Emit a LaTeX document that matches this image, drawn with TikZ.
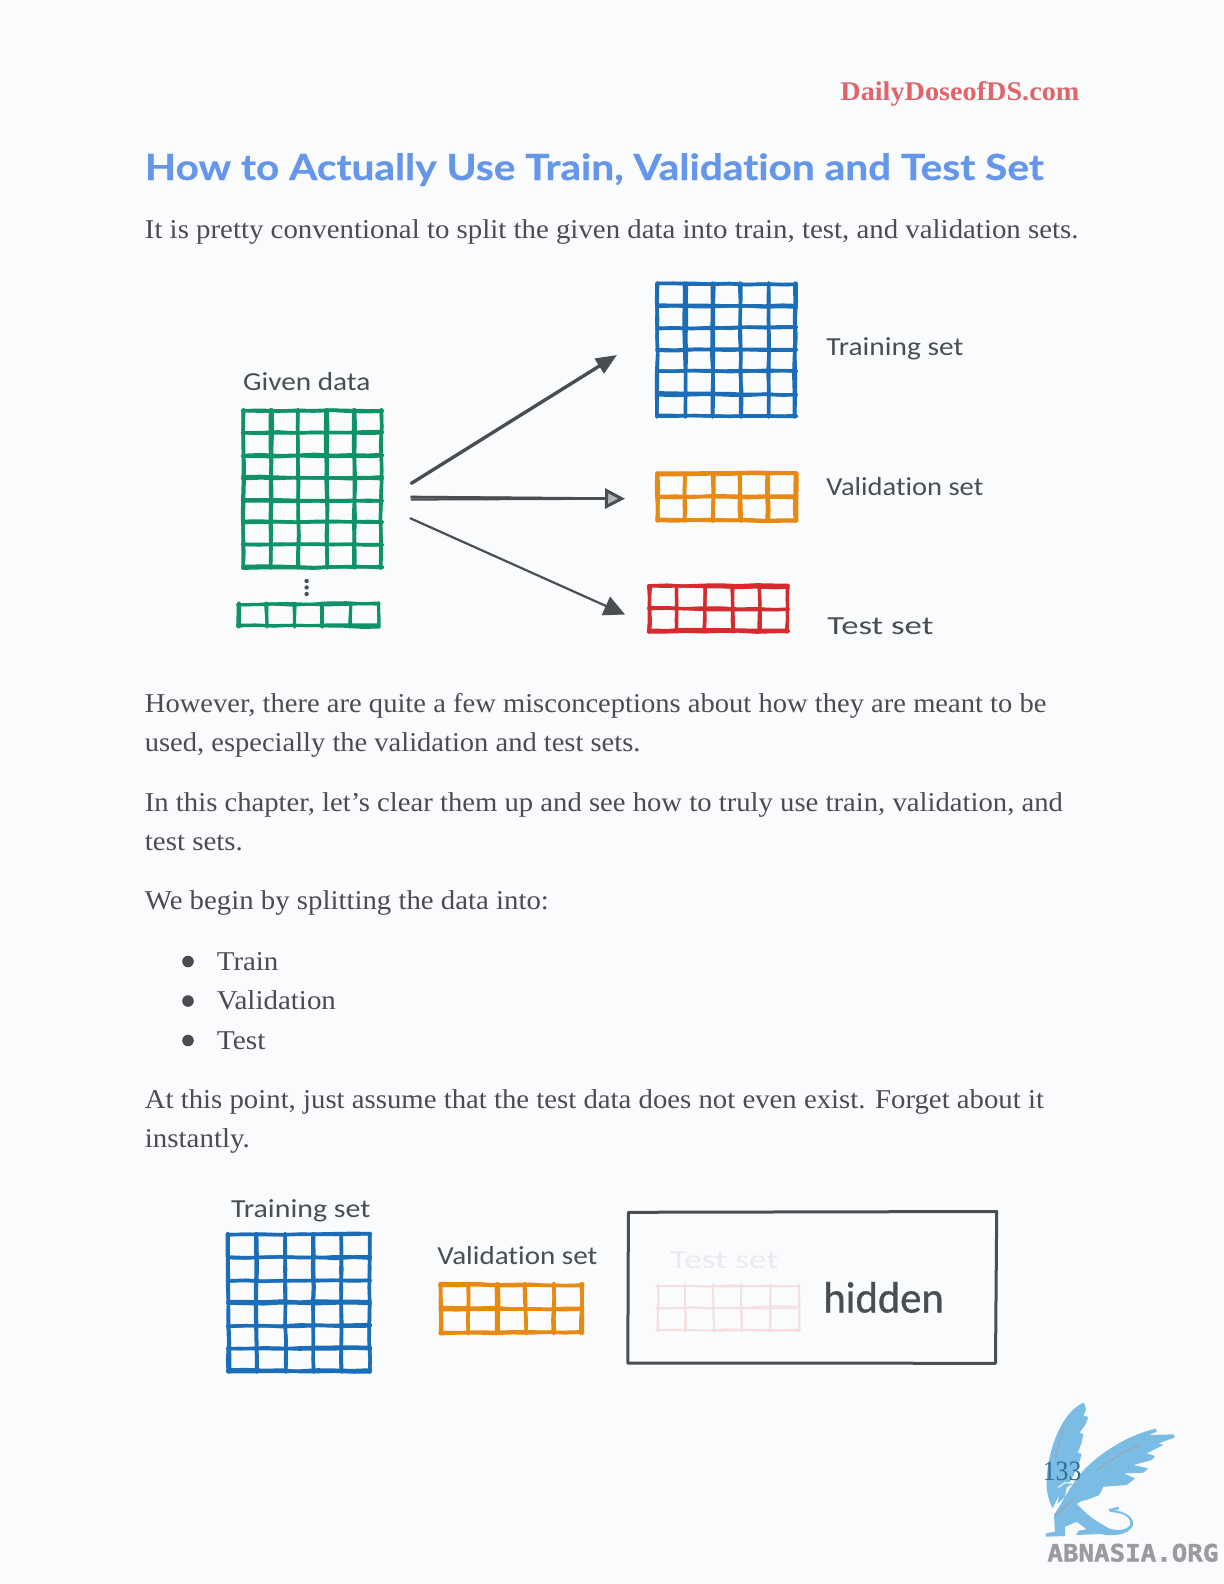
\documentclass[tikz,border=0pt]{standalone}
\usepackage{fontspec}
\usepackage{graphicx}
\setmainfont{Liberation Serif}
\newfontfamily\headfont[Ligatures=CommonOff,FakeBold=0.5]{Lato}
\newfontfamily\sketchfont[Ligatures=CommonOff]{Carlito}
\newfontfamily\hiddenfont[Ligatures=CommonOff,FakeBold=0.8]{Carlito}
\newfontfamily\logofont[FakeBold=1.6]{DejaVu Sans Mono}
\usetikzlibrary{arrows.meta,decorations.pathmorphing}
\definecolor{pagebg}{HTML}{F9FBFD}
\definecolor{imgbg}{HTML}{FAFBFD}
\definecolor{inkc}{HTML}{4A4D52}
\definecolor{bodyc}{HTML}{4B4C52}
\definecolor{titlec}{HTML}{6596EA}
\definecolor{brandc}{HTML}{E0656A}
\definecolor{gridgreen}{HTML}{0E9268}
\definecolor{gridblue}{HTML}{1C6DB8}
\definecolor{gridorange}{HTML}{E88A12}
\definecolor{gridred}{HTML}{D42B2F}
\definecolor{gridpink}{HTML}{F6DDE0}
\definecolor{fadedtext}{HTML}{E9EBEF}
\definecolor{logoblue}{HTML}{7BBCE5}
\definecolor{logogray}{HTML}{9A9B9E}
\definecolor{logostreak}{HTML}{9AA6AE}
\definecolor{pagenum}{HTML}{2F6F96}
\newcommand\tline[6]{%
  \pgfmathsetmacro\tlw{(#4-#3)/2}%
  \node[#1,anchor=base west] (#2) at (#3,#5) {\resizebox{\tlw pt}{\height}{#6}};}
\newcommand\sketchgrid[8]{% x0 y0 x1 y1 cols rows colour width
  \pgfmathsetseed{#1}%
  \pgfmathsetmacro\gdx{(#3-#1)/#5}%
  \pgfmathsetmacro\gdy{(#4-#2)/#6}%
  \foreach \gi in {0,...,#5}{%
    \foreach \gp in {1,2}{%
      \pgfmathsetmacro\gxa{#1+\gi*\gdx+1.2*rand}%
      \pgfmathsetmacro\gxb{#1+\gi*\gdx+1.2*rand}%
      \draw[sketchline,draw=#7,line width=#8] (\gxa,#2-1) -- (\gxb,#4+1);}}
  \foreach \gj in {0,...,#6}{%
    \foreach \gp in {1,2}{%
      \pgfmathsetmacro\gya{#2+\gj*\gdy+1.2*rand}%
      \pgfmathsetmacro\gyb{#2+\gj*\gdy+1.2*rand}%
      \draw[sketchline,draw=#7,line width=#8] (#1-1,\gya) -- (#3+1,\gyb);}}
}
\tikzset{
  x=0.5pt,y=-0.5pt,
  sketchline/.style={line cap=round,line join=round,decorate,
    decoration={random steps,segment length=9pt,amplitude=0.35pt}},
  bodytext/.style={inner sep=0,text=bodyc,font=\fontsize{13.6}{16}\selectfont},
  titletext/.style={inner sep=0,text=titlec,font=\headfont\bfseries\fontsize{18}{22}\selectfont},
  brandtext/.style={inner sep=0,text=brandc,font=\bfseries\fontsize{13.5}{16}\selectfont},
  handtext/.style={inner sep=0,text=inkc,font=\sketchfont\fontsize{13}{16}\selectfont},
  arrowline/.style={draw=inkc,line cap=round},
  logoshape/.style={fill=logoblue,draw=none},
}
\begin{document}
\begin{tikzpicture}
\useasboundingbox (0,0) rectangle (1224,1584);
\fill[pagebg] (0,0) rectangle (1224,1584);
\fill[imgbg] (229,271) rectangle (1000,648);
\fill[imgbg] (215,1187) rectangle (1007,1384);

% header and title
\tline{brandtext}{brand}{840}{1079}{100.5}{DailyDoseofDS.com}
\tline{titletext}{title}{144.5}{1043}{180}{How to Actually Use Train, Validation and Test Set}
\tline{bodytext}{l1}{144.5}{1078}{238}{It is pretty conventional to split the given data into train, test, and validation sets.}

% first figure
\sketchgrid{243.5}{410.5}{381.5}{567}{5}{7}{gridgreen}{1.7pt}
\sketchgrid{238.5}{604}{378}{626}{5}{1}{gridgreen}{1.5pt}
\sketchgrid{658}{284}{795.5}{416}{5}{6}{gridblue}{1.7pt}
\sketchgrid{658}{474}{795.5}{520}{5}{2}{gridorange}{1.8pt}
\sketchgrid{649.5}{586.5}{787.5}{631}{5}{2}{gridred}{1.6pt}
\fill[inkc] (306.6,581) circle (1.1pt) (306.6,587.5) circle (1.1pt) (306.6,594) circle (1.1pt);

\tline{handtext}{given}{242.7}{370}{390}{Given data}
\tline{handtext}{lab1}{826}{963}{355}{Training set}
\tline{handtext}{lab2}{826}{983}{495.5}{Validation set}
\tline{handtext}{lab3}{827}{933}{634}{Test set}

\coordinate (fromA) at (411.4,483.3);
\coordinate (toA) at (617,355);
\coordinate (fromB) at (411.4,497);
\coordinate (fromBb) at (411.4,499.5);
\coordinate (toB) at (625,498.7);
\coordinate (neckB) at (612,498.7);
\coordinate (fromC) at (410.4,518.3);
\coordinate (toC) at (625,614.5);
\draw[arrowline,line width=1.7pt,-{Triangle[length=10.5pt,width=8.5pt]}] (fromA) -- (toA);
\draw[arrowline,line width=1.1pt] (fromB) -- (neckB);
\draw[arrowline,line width=1.1pt] (fromBb) -- (neckB);
\draw[arrowline,line width=1.3pt,-{Triangle[open,length=10pt,width=10pt,line width=1.5pt,fill=imgbg!60!inkc]}] (fromB) -- (toB);
\draw[arrowline,line width=1.1pt,-{Triangle[length=10.5pt,width=10pt]}] (fromC) -- (toC);

% body text
\tline{bodytext}{l2}{144.5}{1046}{712}{However, there are quite a few misconceptions about how they are meant to be}
\tline{bodytext}{l3}{144.5}{640}{751.5}{used, especially the validation and test sets.}
\tline{bodytext}{l4}{144.5}{1062.5}{811}{In this chapter, let’s clear them up and see how to truly use train, validation, and}
\tline{bodytext}{l5}{144.5}{242.5}{850.5}{test sets.}
\tline{bodytext}{l6}{144.5}{548.5}{909}{We begin by splitting the data into:}
\fill[bodyc] (188,961.5) circle (2.9pt) (188,1001) circle (2.9pt) (188,1040.5) circle (2.9pt);
\tline{bodytext}{b1}{216.5}{278}{970}{Train}
\tline{bodytext}{b2}{216.5}{335.5}{1009.5}{Validation}
\tline{bodytext}{b3}{216.5}{265}{1049}{Test}
\tline{bodytext}{l7}{144.5}{1043.5}{1108}{At this point, just assume that the test data does not even exist. Forget about it}
\tline{bodytext}{l8}{144.5}{249.5}{1147.5}{instantly.}

% second figure
\sketchgrid{228.5}{1234.5}{369.5}{1371}{5}{6}{gridblue}{1.7pt}
\sketchgrid{441}{1284.5}{581.5}{1332.5}{5}{2}{gridorange}{1.7pt}
\sketchgrid{657.5}{1285}{798.5}{1330.5}{5}{2}{gridpink}{0.8pt}
\draw[inkc,line width=1.5pt,line join=round] (628.4,1212.3) -- (996.7,1211.5) -- (995.5,1363.3) -- (627.8,1363) -- cycle;
\tline{handtext}{lab4}{230.7}{370}{1217}{Training set}
\tline{handtext}{lab5}{437}{597}{1264.5}{Validation set}
\tline{handtext,text=fadedtext}{lab6}{669.7}{778}{1268.5}{Test set}
\tline{handtext,font=\hiddenfont\fontsize{22}{24}\selectfont}{hid}{823}{943.5}{1312.5}{hidden}

% logo
\begin{scope}[shift={(1020,1380)},x=0.16667pt,y=-0.16667pt]
  \fill[logoshape,line join=round] (190,68) .. controls (200,80) and (200,92) .. (190,108)
    -- (205,110) .. controls (200,130) and (190,145) .. (178,158) -- (190,162)
    .. controls (185,190) and (180,205) .. (172,218) -- (185,222)
    .. controls (178,250) and (170,270) .. (150,305) -- (130,325)
    .. controls (118,345) and (105,370) .. (98,385)
    .. controls (85,360) and (78,330) .. (80,300)
    .. controls (82,220) and (120,100) .. (190,68) -- cycle;
  \fill[logoshape,line join=round] (102,405) .. controls (125,370) and (150,320) .. (175,290)
    .. controls (220,230) and (320,165) .. (408,146) -- (410,155) -- (385,165)
    -- (460,163) -- (465,172) -- (415,190) -- (430,195) -- (380,220) -- (405,228)
    -- (395,240) -- (340,255) -- (385,265) -- (370,278) -- (310,280) -- (345,295) -- (320,315)
    -- (250,320) -- (238,345) -- (205,358) -- (180,365) -- (170,372)
    .. controls (195,395) and (205,410) .. (250,435)
    .. controls (280,458) and (320,452) .. (330,435)
    .. controls (335,420) and (322,405) .. (300,400)
    -- (270,395) -- (265,388) -- (295,380) -- (298,388) -- (280,390)
    .. controls (320,395) and (345,415) .. (338,438)
    .. controls (325,465) and (280,470) .. (240,462)
    -- (168,465) -- (175,452) -- (200,448) -- (170,425) -- (135,440) -- (135,468) -- (77,470)
    -- (78,460) -- (105,455) -- (102,405) -- cycle;
  \fill[logoshape] (112,372) -- (120,335) -- (115,322) -- (135,308) -- (162,310) -- (140,322) -- (135,350) -- cycle;
  \draw[white,line width=0.5pt] (115,322) -- (135,308) -- (160,310);
  \draw[logostreak,line width=0.6pt] (105,405) -- (165,355);
  \draw[logostreak,line width=0.6pt] (232,270) .. controls (270,240) and (320,210) .. (360,195);
  \draw[logostreak,line width=0.5pt] (105,240) .. controls (110,210) and (120,180) .. (130,150);
\end{scope}
\tline{inner sep=0,text=pagenum,font=\fontsize{14}{16}\selectfont}{pnum}{1042.5}{1081}{1480.5}{133}
\tline{inner sep=0,text=logogray,font=\logofont\bfseries\fontsize{12}{14}\selectfont}{org}{1047}{1218}{1561.5}{ABNASIA.ORG}
\end{tikzpicture}
\end{document}
